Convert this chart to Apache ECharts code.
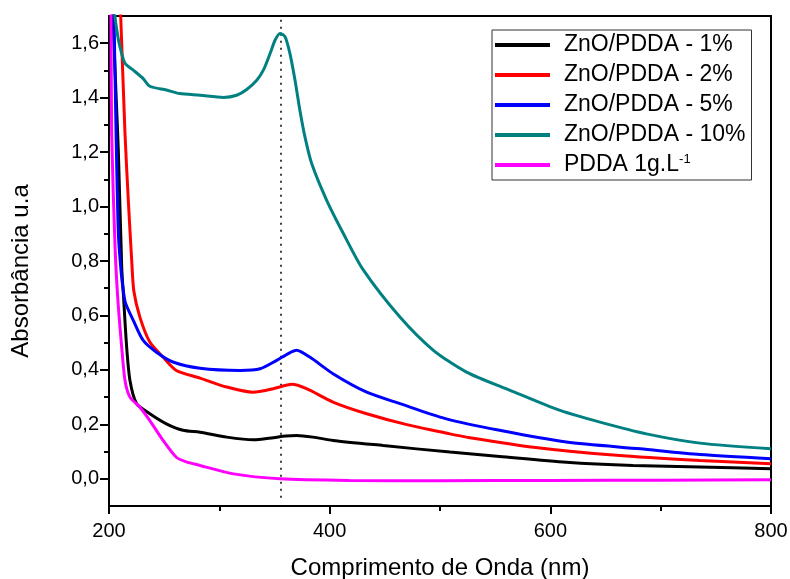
<!DOCTYPE html>
<html>
<head>
<meta charset="utf-8">
<script src="https://cdn.jsdelivr.net/npm/echarts@6/dist/echarts.min.js"></script>
<style>
  html, body { margin: 0; padding: 0; background: #fff; overflow: hidden; }
  #chart { width: 790px; height: 579px; }
</style>
</head>
<body>
<div id="chart"></div>
<script>
// UV-Vis absorbance spectra: wavelength (nm) and absorbance (a.u.) per sample
const seriesNames = ['ZnO/PDDA - 1%', 'ZnO/PDDA - 2%', 'ZnO/PDDA - 5%', 'ZnO/PDDA - 10%', 'PDDA 1g.L-1'];
const seriesColors = ['#000000', '#ff0000', '#0000ff', '#008080', '#ff00ff'];

const wl1 = [203, 203.6, 206, 208.5, 211.5, 213, 216, 219, 225, 237, 252, 267, 282.5, 306.7, 330.8, 349, 360, 370, 385, 403, 448.6, 509, 554, 614.6, 675, 735.6, 800];
const abs1 = [1.85, 1.70, 1.45, 1.20, 0.78, 0.68, 0.484, 0.361, 0.276, 0.239, 0.202, 0.178, 0.171, 0.153, 0.143, 0.151, 0.157, 0.159, 0.153, 0.141, 0.122, 0.098, 0.082, 0.061, 0.049, 0.043, 0.037];

const wl2 = [209, 210.6, 214.5, 217.5, 220.6, 222.5, 228, 237, 249, 261, 282.5, 306.7, 330.8, 349, 365.6, 379, 403, 433.6, 470, 509, 524, 584.6, 660, 735.6, 800];
const abs2 = [1.85, 1.70, 1.268, 1.023, 0.800, 0.690, 0.594, 0.502, 0.447, 0.398, 0.370, 0.337, 0.318, 0.331, 0.347, 0.331, 0.282, 0.239, 0.199, 0.165, 0.153, 0.116, 0.086, 0.067, 0.055];

const wl5 = [203.5, 204.5, 206.5, 208.5, 211, 213, 215, 222, 231, 243, 258, 282.5, 318.7, 337, 352, 362.5, 370, 382, 403, 433.6, 463.7, 505, 554, 614.6, 681.5, 735.6, 800];
const abs5 = [1.85, 1.70, 1.25, 0.90, 0.76, 0.69, 0.645, 0.582, 0.508, 0.465, 0.429, 0.406, 0.398, 0.404, 0.435, 0.460, 0.472, 0.447, 0.386, 0.318, 0.276, 0.221, 0.178, 0.135, 0.110, 0.089, 0.074];

const wl10 = [204, 205.4, 208, 210, 214.5, 222, 231, 237, 252, 264, 282.5, 303.6, 315.7, 324.8, 333.9, 339.9, 346, 350.5, 355, 359.5, 364, 368.6, 373, 377.6, 383.7, 397.3, 412.4, 430, 463.7, 494, 524, 563.5, 608.8, 645, 687, 735.6, 800];
const abs10 = [1.85, 1.70, 1.625, 1.586, 1.526, 1.501, 1.470, 1.442, 1.428, 1.415, 1.409, 1.401, 1.409, 1.430, 1.464, 1.501, 1.562, 1.611, 1.636, 1.624, 1.562, 1.464, 1.354, 1.256, 1.158, 1.023, 0.901, 0.770, 0.594, 0.472, 0.392, 0.325, 0.251, 0.208, 0.165, 0.131, 0.110];

const wlP = [201, 201.8, 202.4, 205.5, 208, 211.5, 214.5, 219, 228, 237, 249, 261, 270, 282.5, 312.7, 355, 418, 500, 600, 700, 800];
const absP = [1.90, 1.70, 1.27, 0.85, 0.66, 0.484, 0.361, 0.300, 0.263, 0.214, 0.141, 0.079, 0.062, 0.049, 0.018, 0.000, -0.006, -0.007, -0.006, -0.005, -0.004];

// Band position marked by the dotted guide
const peakWavelength = 356;

// Axis ticks
const xTicks = [200, 400, 600, 800];
const yMajorTicks = [0, 0.2, 0.4, 0.6, 0.8, 1.0, 1.2, 1.4, 1.6];
const yMinorTicks = [0.1, 0.3, 0.5, 0.7, 0.9, 1.1, 1.3, 1.5];

const wavelengths = [wl1, wl2, wl5, wl10, wlP];
const absorbances = [abs1, abs2, abs5, abs10, absP];

const FONT = '"Liberation Sans", Arial, Helvetica, sans-serif';

const zip = (xs, ys) => xs.map((x, i) => [x, ys[i]]);

const series = seriesNames.map((name, i) => ({
  name: name,
  type: 'line',
  data: zip(wavelengths[i], absorbances[i]),
  showSymbol: false,
  smooth: 0.25,
  clip: true,
  lineStyle: { color: seriesColors[i], width: 3 },
  itemStyle: { color: seriesColors[i] },
  z: 3 + i
}));

series[0].markLine = {
  silent: true,
  symbol: 'none',
  label: { show: false },
  lineStyle: { color: '#000', type: [2, 5], width: 1.5 },
  data: [[{ coord: [peakWavelength, -0.07] }, { coord: [peakWavelength, 1.69] }]],
  z: 1
};

const chart = echarts.init(document.getElementById('chart'), null, { renderer: 'canvas' });

chart.setOption({
  animation: false,
  backgroundColor: '#fff',
  textStyle: { fontFamily: FONT },
  grid: {
    left: 109, right: 19, top: 16, bottom: 73,
    outerBoundsMode: 'none',
    containLabel: false,
    show: true, borderColor: '#000', borderWidth: 2, backgroundColor: 'transparent'
  },
  legend: {
    orient: 'vertical',
    left: 492, top: 30,
    padding: [3, 6, 3, 3],
    itemWidth: 55, itemHeight: 4, itemGap: 6,
    icon: 'rect',
    borderColor: '#333', borderWidth: 1,
    data: seriesNames,
    formatter: name => name === 'PDDA 1g.L-1' ? 'PDDA 1g.L{sup|-1}' : name,
    textStyle: {
      fontFamily: FONT, fontSize: 23, lineHeight: 24, color: '#000',
      padding: [0, 0, 0, 9],
      rich: {
        sup: { fontFamily: FONT, fontSize: 13, lineHeight: 13, verticalAlign: 'top', color: '#000' }
      }
    }
  },
  xAxis: {
    type: 'value',
    min: 200, max: 800, interval: 200,
    name: 'Comprimento de Onda (nm)',
    nameLocation: 'middle', nameGap: 50,
    nameTextStyle: { fontFamily: FONT, fontSize: 24, color: '#000' },
    axisLine: { show: true, onZero: false, lineStyle: { color: '#000', width: 2 } },
    axisTick: { show: true, inside: false, length: 8, lineStyle: { color: '#000', width: 2 } },
    minorTick: { show: true, splitNumber: 2, length: 5, lineStyle: { color: '#000', width: 2 } },
    axisLabel: {
      fontFamily: FONT, fontSize: 20, color: '#000', margin: 15,
      customValues: xTicks
    },
    splitLine: { show: false }
  },
  yAxis: [{
    type: 'value',
    min: -0.1, max: 1.7,
    name: 'Absorbância u.a',
    nameLocation: 'middle', nameGap: 76,
    nameTextStyle: { fontFamily: FONT, fontSize: 24, color: '#000', padding: [0, 20, 0, 0] },
    axisLine: { show: true, onZero: false, lineStyle: { color: '#000', width: 2 } },
    axisTick: { show: true, inside: false, length: 9, customValues: yMajorTicks, lineStyle: { color: '#000', width: 2 } },
    axisLabel: {
      fontFamily: FONT, fontSize: 20, color: '#000', margin: 10,
      customValues: yMajorTicks,
      formatter: v => v.toFixed(1).replace('.', ',')
    },
    splitLine: { show: false }
  }, {
    type: 'value',
    min: -0.1, max: 1.7,
    position: 'left', offset: 0,
    axisLine: { show: false },
    axisTick: { show: true, inside: false, length: 5, customValues: yMinorTicks, lineStyle: { color: '#000', width: 2 } },
    axisLabel: { show: false },
    splitLine: { show: false }
  }],
  series: series
});
</script>
</body>
</html>
